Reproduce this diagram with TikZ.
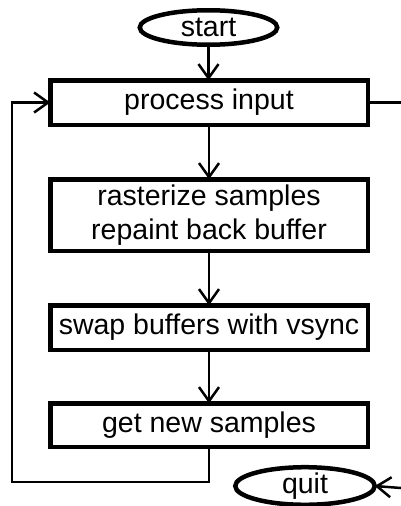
\documentclass[tikz,border=0pt]{standalone}
\usepackage{fontspec}
\setmainfont{Liberation Sans}
\usetikzlibrary{arrows.meta,shapes.geometric}
\begin{document}
\begin{tikzpicture}[x=1pt,y=-1pt,
  every node/.style={font=\fontsize{28.5}{34}\selectfont, inner sep=0pt, outer sep=0pt},
  stepbox/.style={draw, line width=4.5pt, rectangle, minimum width=317.5pt, align=center},
  term/.style={draw, line width=4.5pt, ellipse},
  flow/.style={line width=2.5pt, -{Straight Barb[length=14pt,width=20pt,line width=2.5pt]}},
  wire/.style={line width=2.5pt}]
  \useasboundingbox (0,0) rectangle (401,506);

  % terminals
  \node[term, minimum width=137.5pt, minimum height=34.5pt] (start) at (208.5,27.5) {start};
  \node[term, minimum width=139.5pt, minimum height=33.5pt] (quit) at (305,486) {quit};

  % processing steps
  \node[stepbox, minimum height=44.5pt] (input) at (209,102.5) {process input};
  \node[stepbox, minimum height=71.5pt] (raster) at (209,215) {rasterize samples\\repaint back buffer};
  \node[stepbox, minimum height=44.5pt] (swap) at (209,327.5) {swap buffers with vsync};
  \node[stepbox, minimum height=43.5pt] (fetch) at (209,425) {get new samples};

  % free ends and loop corner
  \coordinate (outR) at (401,102.5);
  \coordinate (inQ) at (401,488);
  \coordinate (loopc) at (12,482);

  % connectors
  \draw[flow] (start) -- (start |- input.north);
  \draw[flow] (input) -- (raster);
  \draw[flow] (raster) -- (swap);
  \draw[flow] (swap) -- (fetch);
  \draw[wire] (input.east) -- (outR);
  \draw[flow] (inQ) -- (quit.east);
  \draw[flow] (fetch.south) |- (loopc) |- (input.west);
\end{tikzpicture}
\end{document}
